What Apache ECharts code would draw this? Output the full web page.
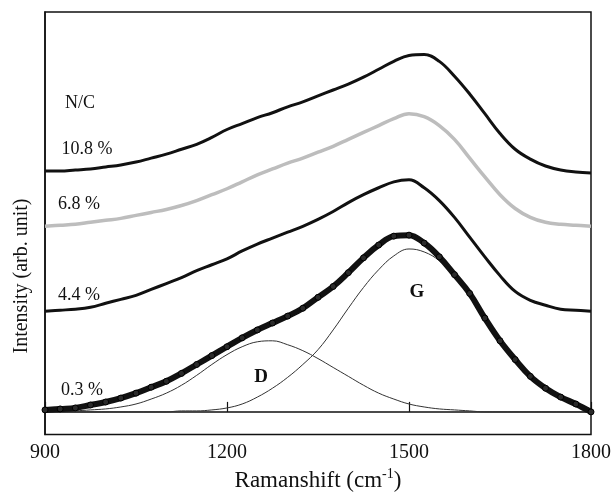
<!DOCTYPE html>
<html>
<head>
<meta charset="utf-8">
<script src="https://cdn.jsdelivr.net/npm/echarts@6/dist/echarts.min.js"></script>
<style>
html,body{margin:0;padding:0;background:#fff;}
#chart{width:614px;height:497px;}
</style>
</head>
<body>
<div id="chart"></div>
<script>
// Raman shift (cm^-1) sample positions
const ramanShift = [900,925,950,975,1000,1025,1050,1075,1100,1125,1150,1175,1200,1225,1250,1275,1300,1325,1350,1375,1400,1425,1450,1475,1500,1525,1550,1575,1600,1625,1650,1675,1700,1725,1750,1775,1800];
// Intensity (arb. unit, offset stacked)
const nc10_8 = [244,244,245,246,248,250,253,257,261,266,271,278,286,292,298,303,309,314,320,326,332,339,347,355,361,362,355,340,322,302,282,266,256,249,245,243,242];
const nc6_8  = [188,189,190,192,194,196,199,202,205,209,214,220,226,233,240,246,252,257,263,269,276,283,290,297,302,299,290,276,257,238,220,206,197,192,190,189,188];
const nc4_4  = [102,103,104,106,110,114,118,124,130,136,143,149,155,163,170,176,182,188,195,203,212,220,227,233,235,227,214,197,177,157,138,122,113,108,104,103,102];
const nc0_3  = [2,3,4,7,10,14,19,25,31,39,48,57,66,75,83,90,97,105,116,127,141,156,169,178,179,171,157,139,120,95,72,53,36,24,15,8,0];
// Fitted bands for 0.3 %
const bandD  = [0,0,1,2,3,5,8,13,19,27,37,48,58,66,71,72,68,62,54,45,36,27,19,13,8,5,3,2,1,0,0,0,0,0,0,0,0];
const bandG  = [0,0,0,0,0,0,0,0,0,1,1,2,4,8,15,24,35,48,63,83,105,126,144,158,165,162,153,137,118,94,71,52,36,24,15,8,3];
const xTicks = [900,1200,1500,1800];
const sampleLabels = ['N/C','10.8 %','6.8 %','4.4 %','0.3 %'];

const pair = arr => ramanShift.map((x,i)=>[x,arr[i]]);
const FONT = 'Liberation Serif';

const chart = echarts.init(document.getElementById('chart'));
const fitStyle = {color:'#333', width:1};
const option = {
  backgroundColor:'#fff',
  animation:false,
  grid:{left:45,right:18,top:12,bottom:57,show:true,borderColor:'#111',borderWidth:1.5,backgroundColor:'transparent'},
  xAxis:{
    type:'value',min:900,max:1800,interval:300,
    axisLine:{show:true,lineStyle:{color:'#111',width:1.5}},
    axisTick:{show:true,inside:true,length:10,lineStyle:{color:'#111',width:1.2}},
    splitLine:{show:false},
    axisLabel:{fontFamily:FONT,fontSize:20,color:'#111',margin:8,
      formatter:v=> xTicks.includes(v)? String(v):''},
    name:'{a|Ramanshift (cm}{s|-1}{a|)}',
    nameLocation:'middle',nameGap:30,
    nameTextStyle:{rich:{
      a:{fontFamily:FONT,fontSize:23,color:'#111'},
      s:{fontFamily:FONT,fontSize:14,color:'#111',padding:[0,0,12,0]}
    }}
  },
  yAxis:{
    type:'value',min:-23,max:405,
    axisLine:{show:true,lineStyle:{color:'#111',width:1.5}},
    axisTick:{show:false},axisLabel:{show:false},splitLine:{show:false}
  },
  series:[
    {type:'line',data:pair(bandD),smooth:0.4,showSymbol:false,lineStyle:fitStyle,z:2},
    {type:'line',data:pair(bandG),smooth:0.4,showSymbol:false,lineStyle:fitStyle,z:2},
    {type:'line',data:pair(nc0_3),smooth:0.4,symbol:'circle',symbolSize:6,showSymbol:true,
      itemStyle:{color:'#2a2a2a',borderColor:'#000',borderWidth:1},
      lineStyle:{color:'#111',width:6},z:3},
    {type:'line',data:pair(nc4_4),smooth:0.4,showSymbol:false,lineStyle:{color:'#111',width:3},z:3},
    {type:'line',data:pair(nc6_8),smooth:0.4,showSymbol:false,lineStyle:{color:'#bdbdbd',width:3.5},z:3},
    {type:'line',data:pair(nc10_8),smooth:0.4,showSymbol:false,lineStyle:{color:'#111',width:3},z:3}
  ],
  graphic:[
    {type:'text',x:22,y:276,rotation:Math.PI/2,
      style:{text:'Intensity (arb. unit)',font:'20px "Liberation Serif"',fill:'#111',textAlign:'center',textVerticalAlign:'middle'}},
    {type:'text',x:80,y:103,style:{text:sampleLabels[0],font:'18px "Liberation Serif"',fill:'#111',textAlign:'center',textVerticalAlign:'middle'}},
    {type:'text',x:87,y:149,style:{text:sampleLabels[1],font:'18px "Liberation Serif"',fill:'#111',textAlign:'center',textVerticalAlign:'middle'}},
    {type:'text',x:79,y:204,style:{text:sampleLabels[2],font:'18px "Liberation Serif"',fill:'#111',textAlign:'center',textVerticalAlign:'middle'}},
    {type:'text',x:79,y:295,style:{text:sampleLabels[3],font:'18px "Liberation Serif"',fill:'#111',textAlign:'center',textVerticalAlign:'middle'}},
    {type:'text',x:82,y:390,style:{text:sampleLabels[4],font:'18px "Liberation Serif"',fill:'#111',textAlign:'center',textVerticalAlign:'middle'}},
    {type:'text',x:261,y:377,style:{text:'D',font:'bold 19px "Liberation Serif"',fill:'#111',textAlign:'center',textVerticalAlign:'middle'}},
    {type:'text',x:417,y:292,style:{text:'G',font:'bold 19px "Liberation Serif"',fill:'#111',textAlign:'center',textVerticalAlign:'middle'}}
  ]
};
chart.setOption(option);
</script>
</body>
</html>
